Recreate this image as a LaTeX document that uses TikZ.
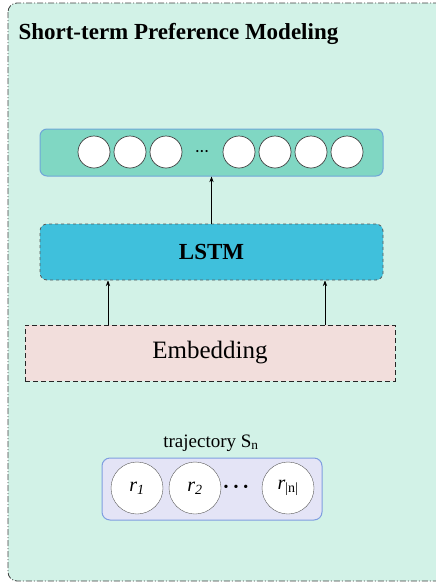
\documentclass[tikz,border=0pt]{standalone}
\usepackage{fontspec}
\setmainfont{Liberation Serif}
\usetikzlibrary{arrows.meta,positioning,calc}
\definecolor{mint}{HTML}{D2F2E7}
\definecolor{outfill}{HTML}{80D7C3}
\definecolor{outline}{HTML}{6FA6D8}
\definecolor{lstmfill}{HTML}{3FC0DC}
\definecolor{embfill}{HTML}{F2DEDC}
\definecolor{trajfill}{HTML}{E4E4F6}
\definecolor{trajline}{HTML}{7F9EE0}
\tikzset{
  outbox/.style={draw=outline,fill=outfill,line width=1pt,rounded corners=7pt},
  lstmbox/.style={draw=black!65,fill=lstmfill,dashed,line width=0.8pt,rounded corners=7pt,
    font=\bfseries\fontsize{23}{26}\selectfont},
  embbox/.style={draw=black!85,fill=embfill,dash pattern=on 5pt off 3pt,line width=0.8pt,
    font=\fontsize{25}{28}\selectfont},
  trajbox/.style={draw=trajline,fill=trajfill,line width=1pt,rounded corners=8pt},
  unit/.style={circle,draw=black!75,fill=white,line width=0.7pt,minimum size=32pt,inner sep=0pt},
  poi/.style={circle,draw=black!65,fill=white,minimum size=52pt,inner sep=0pt,
    font=\fontsize{20}{22}\selectfont},
  up/.style={-Stealth,line width=0.6pt}
}
\begin{document}
\begin{tikzpicture}[x=1pt,y=-1pt]
\useasboundingbox (0,0) rectangle (436,584);
\begin{scope}
\clip (0,0) rectangle (436,584);
\draw[dash pattern=on 6pt off 2pt on 1pt off 2pt,draw=black!75,line width=0.8pt,fill=mint,rounded corners=9pt] (8,3) rectangle (470,581);
\end{scope}
\node[anchor=west,font=\bfseries\fontsize{23}{26}\selectfont] (title) at (15,34) {Short-term Preference Modeling};
% output layer
\node[outbox,minimum width=343,minimum height=47] (out) at (211.5,152.5) {};
\foreach \i/\x in {1/94,2/130,3/166,4/239,5/275,6/311,7/347}
  \node[unit] (c\i) at (\x,152) {};
\node[font=\fontsize{9}{9}\selectfont,inner sep=0pt] (odots) at (202,152) {\textbullet\hspace{1.5pt}\textbullet\hspace{1.5pt}\textbullet};
% lstm
\node[lstmbox,minimum width=343,minimum height=56] (lstm) at (211.5,252) {LSTM};
% embedding
\node[embbox,minimum width=370,minimum height=56] (emb) at (210,353) {Embedding};
% trajectory
\node[font=\fontsize{19}{22}\selectfont] (tlabel) at (211,443) {trajectory S\textsubscript{n}};
\node[trajbox,minimum width=220,minimum height=62] (traj) at (212,489) {};
\node[poi] (r1) at (137,488) {\textit{r}\textsubscript{\textit{1}}};
\node[poi] (r2) at (195,488) {\textit{r}\textsubscript{\textit{2}}};
\node[poi] (rn) at (288,488) {\textit{r}\textsubscript{|n|}};
\node[font=\fontsize{14}{14}\selectfont,inner sep=0pt] (tdots) at (236,488) {\textbullet\hspace{5pt}\textbullet\hspace{5pt}\textbullet};
% arrows
\coordinate (pl) at (108,300);
\coordinate (pr) at (325,300);
\draw[up] (lstm.north) -- (out.south);
\draw[up] (emb.north -| pl) -- (lstm.south -| pl);
\draw[up] (emb.north -| pr) -- (lstm.south -| pr);
\end{tikzpicture}
\end{document}
